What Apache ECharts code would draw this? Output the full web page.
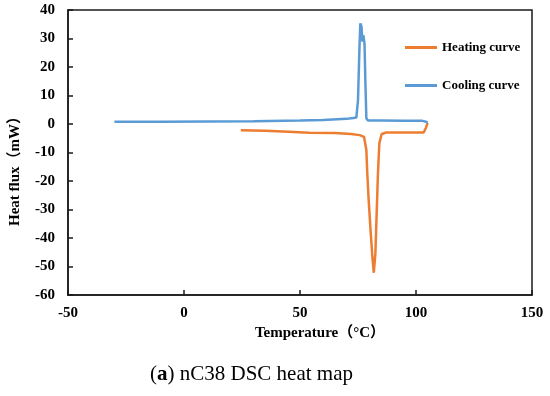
<!DOCTYPE html>
<html>
<head>
<meta charset="utf-8">
<script src="https://cdn.jsdelivr.net/npm/echarts@6/dist/echarts.min.js"></script>
<style>
html,body{margin:0;padding:0;background:#fff;}
#chart{width:550px;height:396px;}
</style>
</head>
<body>
<div id="chart"></div>
<script>
// Data
var heatingTemp = [24.5, 35, 45, 54, 65, 72, 75.7, 77.6, 78.6, 79.0, 79.6, 80.5, 81.2, 81.8, 82.5, 83.0, 83.6, 84.2, 85.2, 87.2, 95, 103.3, 104.3, 105];
var heatingFlux = [-2.2, -2.4, -2.7, -3.05, -3.2, -3.5, -3.9, -4.5, -9.1, -17.3, -26.7, -38.4, -46.6, -52.2, -45.4, -32.5, -17.3, -6.8, -3.5, -3.0, -3.0, -3.0, -1.3, 0.4];

var coolingTemp = [-30, -10, 10, 30, 50, 60, 70, 73, 74.3, 75.0, 75.6, 76.0, 76.5, 76.9, 77.3, 77.8, 78.2, 78.6, 79.3, 85, 95, 102.8, 104.3, 105];
var coolingFlux = [0.8, 0.8, 0.9, 1.0, 1.2, 1.4, 1.8, 2.1, 2.3, 8.4, 26, 35.3, 34.2, 28.9, 31.2, 28.3, 14.3, 2.0, 1.2, 1.2, 1.1, 1.1, 0.8, 0.5];

var seriesNames = ['Heating curve', 'Cooling curve'];
var xTitle = 'Temperature（°C）';
var yTitle = 'Heat flux（mW）';
var caption = 'nC38 DSC heat map';

function pairs(xs, ys) {
  var out = [];
  for (var i = 0; i < xs.length; i++) out.push([xs[i], ys[i]]);
  return out;
}

var serif = '"Liberation Serif", "Times New Roman", "Noto Sans CJK SC", serif';

var chart = echarts.init(document.getElementById('chart'));
chart.setOption({
  backgroundColor: '#ffffff',
  animation: false,
  grid: {
    left: 67, right: 18, top: 10, bottom: 101,
    show: true, borderColor: '#1a1a1a', borderWidth: 1.5, backgroundColor: 'transparent'
  },
  legend: {
    orient: 'vertical',
    left: 400, top: 36,
    itemWidth: 32, itemHeight: 3,
    itemGap: 25,
    icon: 'rect',
    data: seriesNames,
    textStyle: { fontFamily: serif, fontWeight: 'bold', fontSize: 13, color: '#000' }
  },
  xAxis: {
    type: 'value', min: -50, max: 150, interval: 50,
    name: xTitle, nameLocation: 'middle', nameGap: 28,
    nameTextStyle: { fontFamily: serif, fontWeight: 'bold', fontSize: 15, color: '#000', padding: [0, 0, 0, 40] },
    axisLine: { show: true, onZero: false, lineStyle: { color: '#1a1a1a', width: 1.5 } },
    axisTick: { show: true, inside: true, length: 5, lineStyle: { color: '#1a1a1a', width: 1.5 } },
    axisLabel: { fontFamily: serif, fontWeight: 'bold', fontSize: 15, color: '#000', margin: 11 },
    splitLine: { show: false }
  },
  yAxis: {
    type: 'value', min: -60, max: 40, interval: 10,
    name: yTitle, nameLocation: 'middle', nameGap: 45, nameRotate: 90,
    nameTextStyle: { fontFamily: serif, fontWeight: 'bold', fontSize: 15, color: '#000', padding: [0, 30, 0, 0] },
    axisLine: { show: true, onZero: false, lineStyle: { color: '#1a1a1a', width: 1.5 } },
    axisTick: { show: true, inside: true, length: 5, lineStyle: { color: '#1a1a1a', width: 1.5 } },
    axisLabel: { fontFamily: serif, fontWeight: 'bold', fontSize: 15, color: '#000', margin: 13 },
    splitLine: { show: false }
  },
  series: [
    {
      name: seriesNames[0], type: 'line', showSymbol: false, symbol: 'none',
      data: pairs(heatingTemp, heatingFlux),
      lineStyle: { color: '#ED7D31', width: 2.5 },
      itemStyle: { color: '#ED7D31' }
    },
    {
      name: seriesNames[1], type: 'line', showSymbol: false, symbol: 'none',
      data: pairs(coolingTemp, coolingFlux),
      lineStyle: { color: '#5B9BD5', width: 2.5 },
      itemStyle: { color: '#5B9BD5' }
    }
  ],
  graphic: [
    {
      type: 'text', left: 150, top: 364,
      style: {
        text: '({b|a}) ' + caption,
        rich: { b: { fontFamily: serif, fontWeight: 'bold', fontSize: 21, fill: '#000' } },
        fontFamily: serif, fontSize: 21, fill: '#000'
      }
    }
  ]
});
</script>
</body>
</html>
